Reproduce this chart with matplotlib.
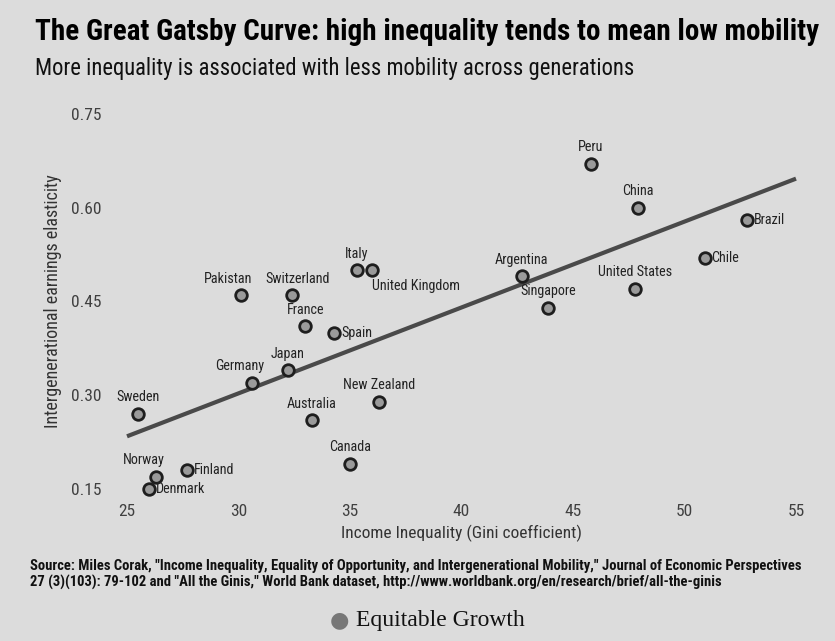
import numpy as np
import matplotlib
matplotlib.use("Agg")
import matplotlib.pyplot as plt
from matplotlib import font_manager

countries = ["Peru", "China", "Brazil", "Chile", "United States", "Argentina", "Singapore",
             "Italy", "United Kingdom", "Pakistan", "Switzerland", "France", "Spain", "Japan",
             "Germany", "Sweden", "New Zealand", "Australia", "Canada", "Norway", "Finland", "Denmark"]
gini = [45.8, 47.9, 52.8, 50.9, 47.8, 42.7, 43.9,
        35.3, 36.0, 30.1, 32.4, 33.0, 34.3, 32.2,
        30.6, 25.5, 36.3, 33.3, 35.0, 26.3, 27.7, 26.0]
elasticity = [0.67, 0.60, 0.58, 0.52, 0.47, 0.49, 0.44,
              0.50, 0.50, 0.46, 0.46, 0.41, 0.40, 0.34,
              0.32, 0.27, 0.29, 0.26, 0.19, 0.17, 0.18, 0.15]
# label placement: 'a' above, 'r' right, 'br' below-right, 'al' above-left, 'ar' above-right
placement = ["a", "a", "r", "r", "a", "a", "a",
             "a", "br", "al", "ar", "a", "r", "a",
             "al", "a", "a", "a", "a", "al", "r", "r"]
fit_x = [25, 55]
xticks = [25, 30, 35, 40, 45, 50, 55]
yticks = [0.15, 0.30, 0.45, 0.60, 0.75]

names = {f.name for f in font_manager.fontManager.ttflist}
FONT = "DejaVu Sans"
for cand in ["Liberation Sans Narrow", "Roboto Condensed", "Open Sans Condensed", "Roboto"]:
    if cand in names:
        FONT = cand
        break

BG = "#dcdcdc"
fig = plt.figure(figsize=(8.35, 6.41), dpi=100, facecolor=BG)
ax = fig.add_axes([0.1254, 0.2176, 0.8546, 0.6241], facecolor=BG)

coef = np.polyfit(gini, elasticity, 1)
fx = np.array(fit_x, dtype=float)
ax.plot(fx, np.polyval(coef, fx), color="#4a4a4a", lw=3, solid_capstyle="butt", zorder=2)

ax.scatter(gini, elasticity, s=70, facecolor="#9a9a9a", edgecolor="#1e1e1e", linewidths=2, zorder=3)

for name, x, y, p in zip(countries, gini, elasticity, placement):
    if p == "a":
        kw = dict(xytext=(0, 7), ha="center", va="bottom")
    elif p == "r":
        kw = dict(xytext=(5, 0), ha="left", va="center")
    elif p == "br":
        kw = dict(xytext=(0, -6), ha="left", va="top")
    elif p == "ar":
        kw = dict(xytext=(4, 7), ha="center", va="bottom")
    else:
        kw = dict(xytext=(-9, 7), ha="center", va="bottom")
    ax.annotate(name, (x, y), textcoords="offset points", fontsize=10.2,
                family=FONT, color="#222222", **kw)

ax.set_xlim(24, 56)
ax.set_ylim(0.13, 0.77)
ax.set_xticks(xticks)
ax.set_yticks(yticks)
ax.set_xticklabels([str(t) for t in xticks], family=FONT, fontsize=12.5, color="#404040")
ax.set_yticklabels([f"{t:.2f}" for t in yticks], family=FONT, fontsize=12.5, color="#404040")
ax.tick_params(length=0, pad=2)
for s in ax.spines.values():
    s.set_visible(False)
ax.set_xlabel("Income Inequality (Gini coefficient)", family=FONT, fontsize=12.5,
              color="#333333", labelpad=4)
ax.set_ylabel("Intergenerational earnings elasticity", family=FONT, fontsize=13,
              color="#333333", labelpad=7)

fig.text(0.042, 0.95, "The Great Gatsby Curve: high inequality tends to mean low mobility",
         family=FONT, fontweight="bold", fontsize=21, color="black", va="center")
fig.text(0.042, 0.893, "More inequality is associated with less mobility across generations",
         family=FONT, fontsize=16.3, color="#111111", va="center")

fig.text(0.036, 0.104,
         "Source: Miles Corak, \"Income Inequality, Equality of Opportunity, and Intergenerational Mobility,\" Journal of Economic Perspectives\n"
         "27 (3)(103): 79-102 and \"All the Ginis,\" World Bank dataset, http://www.worldbank.org/en/research/brief/all-the-ginis",
         family=FONT, fontweight="bold", fontsize=10.55, color="#111111", va="center", linespacing=1.2)

fig.text(0.527, 0.032, "Equitable Growth", family="Liberation Serif", fontsize=17,
         color="#111111", ha="center", va="center")
fig.text(0.407, 0.032, "\u25CF", family="DejaVu Sans", fontsize=16, color="#777777",
         ha="center", va="center")

fig.savefig("out.png", dpi=100, facecolor=BG)
